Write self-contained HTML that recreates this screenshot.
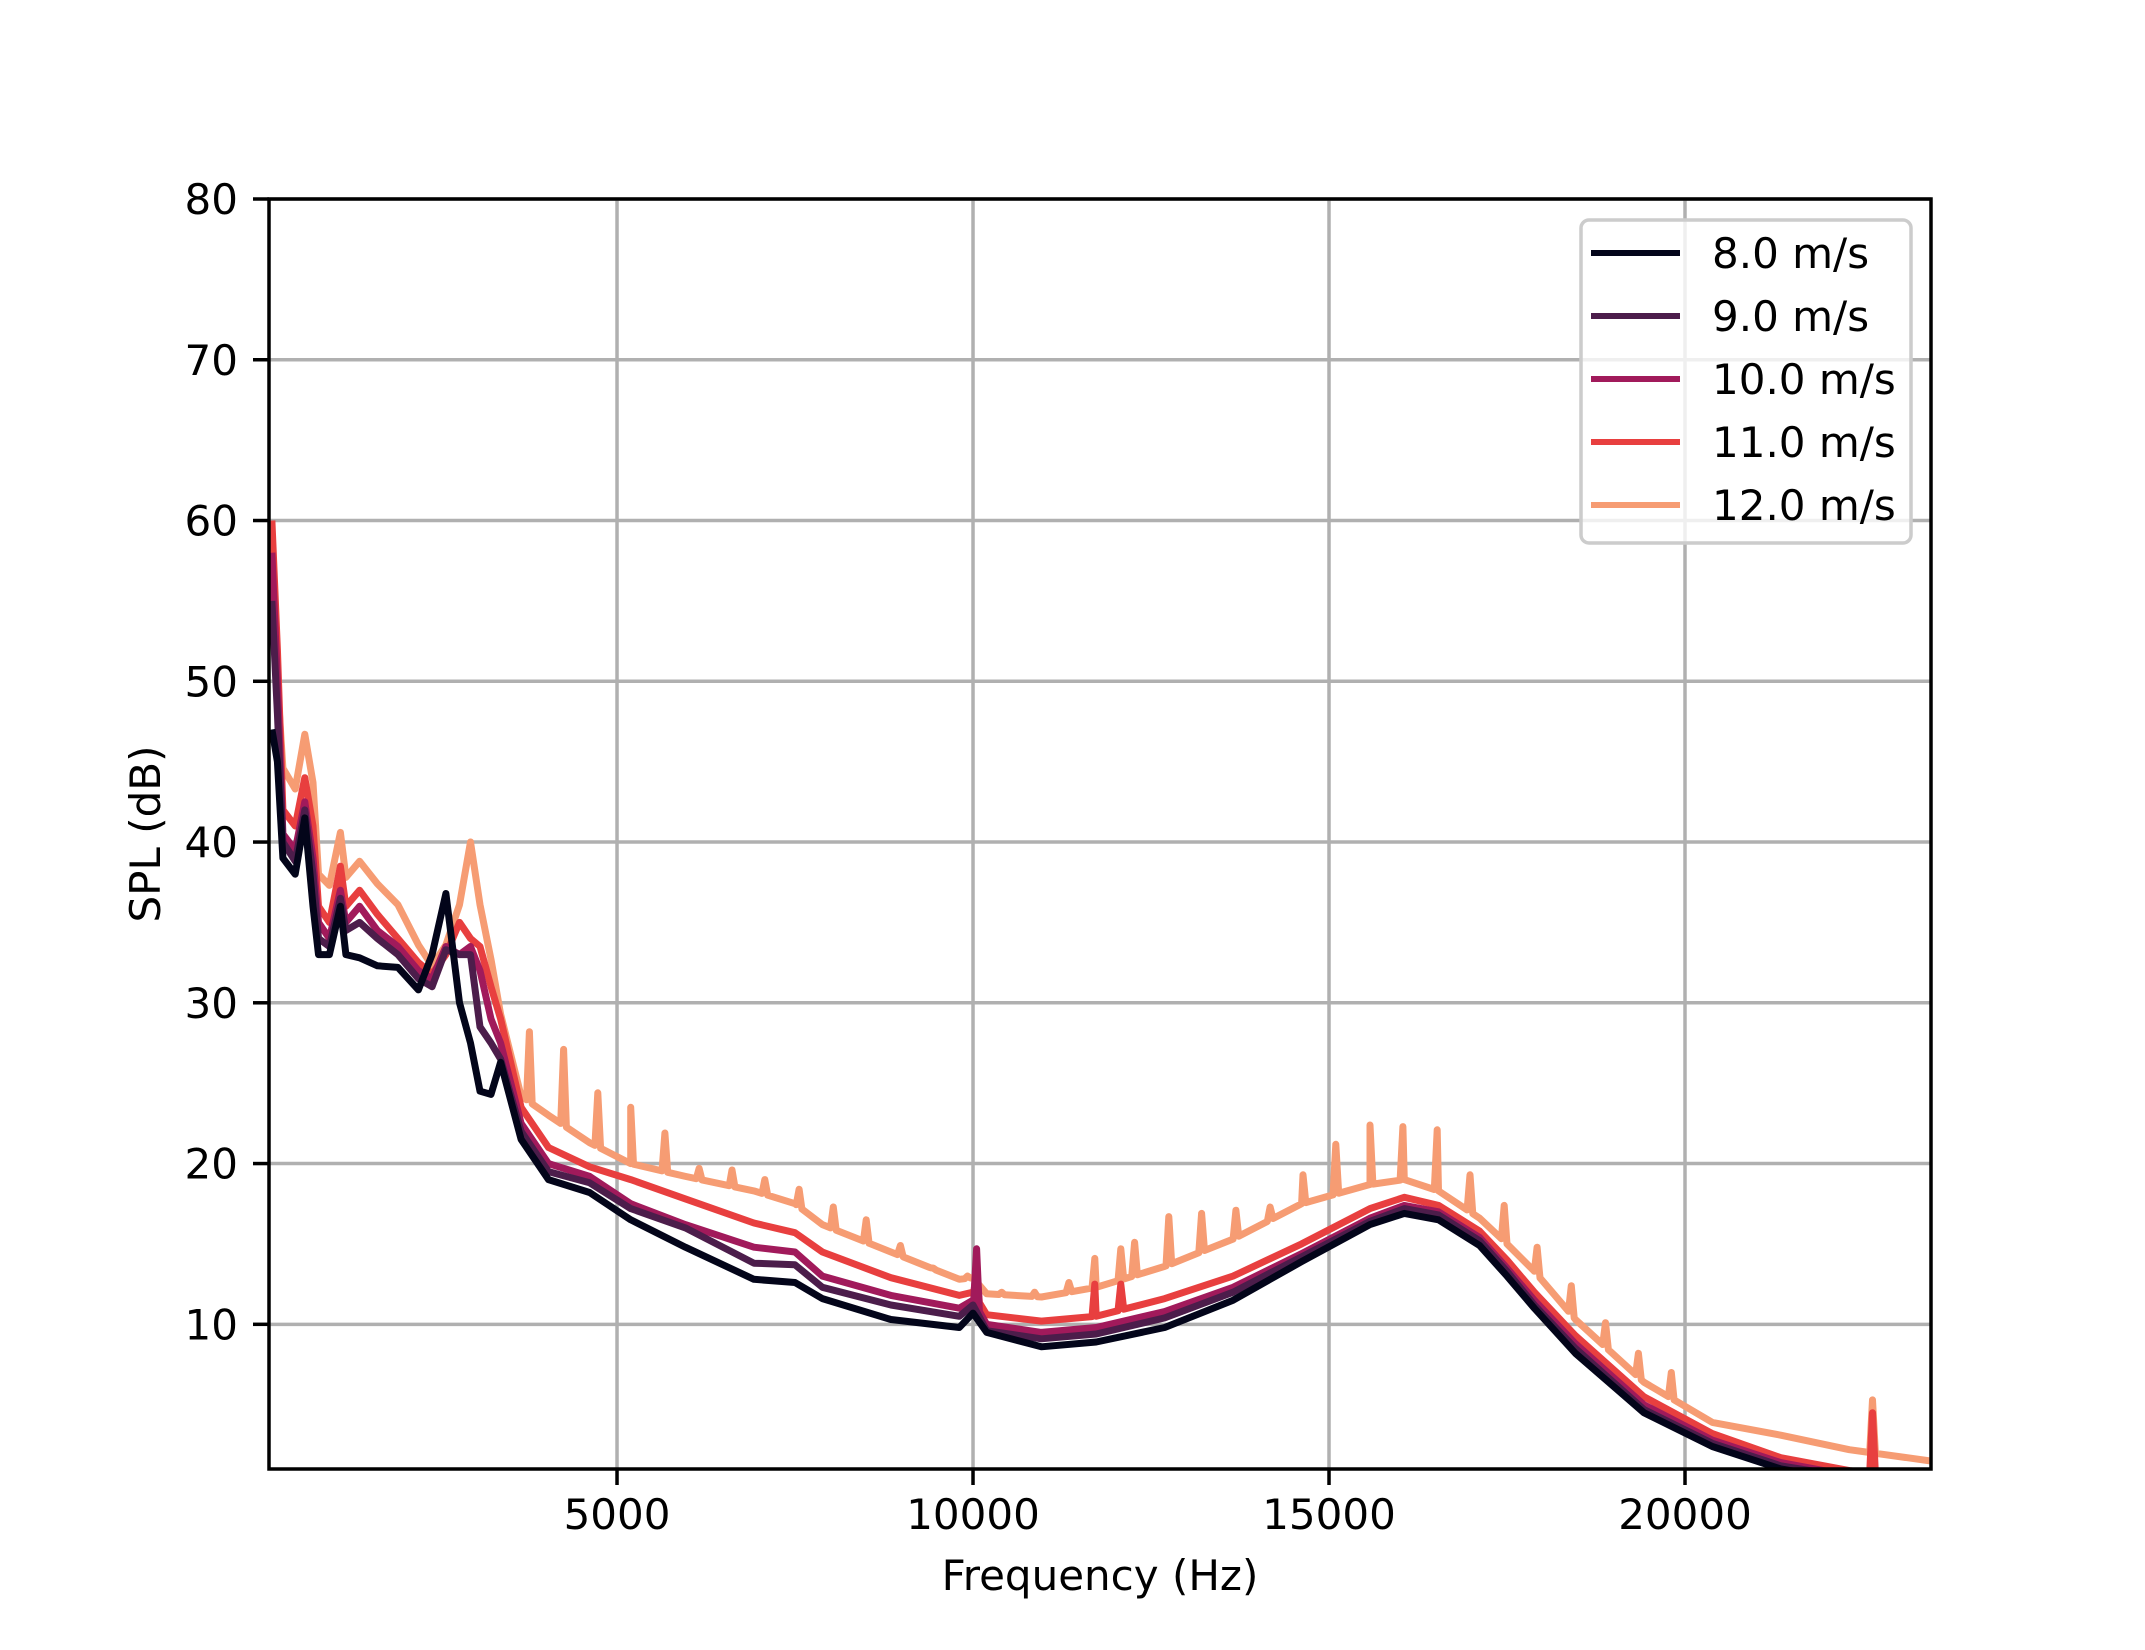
<!DOCTYPE html>
<html><head><meta charset="utf-8">
<style>
html,body{margin:0;padding:0;background:#fff;}
svg{display:block;font-family:"DejaVu Sans","Liberation Sans",sans-serif;}
</style></head>
<body>
<svg id="chart" width="2145" height="1650" viewBox="0 0 2145 1650" xmlns="http://www.w3.org/2000/svg">
<rect width="2145" height="1650" fill="#fff"/>
<defs><clipPath id="plotclip"><rect x="269" y="199" width="1662" height="1270"/></clipPath></defs>
<g id="grid"></g>
<g id="lines" clip-path="url(#plotclip)"></g>
<rect x="269" y="199" width="1662" height="1270" fill="none" stroke="#000" stroke-width="3.5"/>
<g id="ticks"></g>
<text x="1100" y="1590" font-size="42" text-anchor="middle">Frequency (Hz)</text>
<text x="160" y="834" font-size="42" text-anchor="middle" transform="rotate(-90 160 834)">SPL (dB)</text>
<g id="legend"></g>
</svg>
<script>
const seriesLabels = ["8.0 m/s","9.0 m/s","10.0 m/s","11.0 m/s","12.0 m/s"];
const seriesColors = ["#03051a","#4c1d4b","#a11a5b","#e83f3f","#f69c73"];
const freqs = [153,230,307,480,615,730,807,961,1115,1192,1384,1634,1923,2211,2403,2596,2788,2942,3076,3230,3365,3653,4038,4615,5192,5961,6923,7500,7884,8846,9807,10000,10192,10961,11730,12692,13653,14615,15576,16057,16538,17115,17500,17884,18461,19423,20384,21346,22307,23455];
const spl8  = [47,45,39,38,41.5,36,33,33,36,33,32.8,32.3,32.2,30.8,33,36.8,30,27.5,24.5,24.3,26.3,21.5,19,18.2,16.5,14.8,12.8,12.6,11.6,10.3,9.8,10.7,9.5,8.6,8.9,9.8,11.5,13.9,16.2,16.9,16.5,14.9,13,11,8.2,4.5,2.4,1,0.3,0];
const spl9  = [55,48,40,38.8,42,38,34,33.5,36.5,34.5,35,34,33,31.5,31,33.3,33,33,28.5,27.5,26.5,22,19.5,18.8,17.2,16,13.8,13.7,12.3,11.2,10.5,11.2,9.6,9.1,9.4,10.4,12,14.2,16.4,17.2,16.8,15.2,13.3,11.2,8.5,4.7,2.6,1.2,0.5,0];
const spl10 = [58,50,40.5,39.5,42.5,39,35,34,37,35,36,34.5,33.5,32,31.5,33.5,33,33.5,32,29,27.5,22.5,20,19.2,17.5,16.2,14.8,14.5,13,11.8,11,11.5,10,9.5,9.8,10.8,12.3,14.4,16.6,17.4,17,15.4,13.5,11.5,8.8,5,2.8,1.4,0.6,0];
const spl11 = [60,52,42,41,44,41,36,35,38.5,36,37,35.5,34,32.5,31.8,33,35,34,33.5,31,29,23.5,21,19.8,19,17.8,16.3,15.7,14.5,12.9,11.8,12,10.6,10.2,10.5,11.6,13,15,17.2,17.9,17.4,15.8,14,12,9.3,5.5,3.2,1.7,0.9,0.3];
const spl12 = [57,50,44.6,43.3,46.7,43.7,38,37.3,40.6,37.8,38.8,37.4,36.1,33.6,32.3,33.6,36.1,40,36.1,32.7,29.3,24.2,23,21.3,20,19.2,18.3,17.5,16.2,14.5,12.8,12.9,11.9,11.7,12.3,13.6,15.3,17.5,18.7,19,18.3,16.6,15,13.3,10.3,6.4,3.9,3.1,2.2,1.5];
const spikeFreqs12 = [3769,4249,4730,5192,5672,6153,6615,7076,7557,8038,8500,8980,9442,9923,10403,10865,11346,11711,12076,12269,12750,13211,13692,14173,14634,15096,15576,16038,16519,16980,17461,17923,18403,18884,19346,19807,22634];
const spikePeaks12 = [28.2,27.1,24.4,23.5,21.9,19.7,19.6,19.0,18.4,17.3,16.5,14.9,13.5,13.0,12.0,12.0,12.6,14.1,14.7,15.1,16.7,16.9,17.1,17.3,19.3,21.2,22.4,22.3,22.1,19.3,17.4,14.8,12.4,10.1,8.2,7.0,5.3];
const spikeFreqs11 = [10050,11711,12076,22634];
const spikePeaks11 = [13.5,12.5,12.5,4.5];
const spikeFreqs10 = [10050];
const spikePeaks10 = [14.7];
const xTicks = [5000,10000,15000,20000];
const yTicks = [10,20,30,40,50,60,70,80];

const X0=269, X1=1931, Y0=1469, Y1=199, FMIN=112, FMAX=23455, DMIN=1.0, DMAX=80;
function xs(f){return X0+(f-FMIN)/(FMAX-FMIN)*(X1-X0);}
function ys(d){return Y0-(d-DMIN)/(DMAX-DMIN)*(Y0-Y1);}
const NS="http://www.w3.org/2000/svg";
function mk(t,a){const e=document.createElementNS(NS,t);for(const k in a)e.setAttribute(k,a[k]);return e;}
function interp(vals,f){
  if(f<=freqs[0])return vals[0];
  for(let i=1;i<freqs.length;i++){if(f<=freqs[i]){const t=(f-freqs[i-1])/(freqs[i]-freqs[i-1]);return vals[i-1]+t*(vals[i]-vals[i-1]);}}
  return vals[vals.length-1];
}
function buildPts(vals,sf,sp){
  let pts=freqs.map((f,i)=>[f,vals[i]]);
  sf.forEach((f,i)=>{pts.push([f-40,interp(vals,f-40)]);pts.push([f,sp[i]]);pts.push([f+40,interp(vals,f+40)]);});
  pts.sort((a,b)=>a[0]-b[0]);
  return pts;
}
const grid=document.getElementById('grid');
const ticks=document.getElementById('ticks');
xTicks.forEach(v=>{
  const x=xs(v);
  const g=mk('line',{x1:x,x2:x,y1:Y1,y2:Y0,stroke:'#b0b0b0','stroke-width':3.5});
  
  
  grid.appendChild(g);
  const t=mk('line',{x1:x,x2:x,y1:Y0,y2:Y0+16,stroke:'#000','stroke-width':3.5});
  
  
  ticks.appendChild(t);
  const l=mk('text',{x:x,y:1529,'font-size':42,'text-anchor':'middle'});
  
  
  l.textContent=v;ticks.appendChild(l);
});
yTicks.forEach(v=>{
  const y=ys(v);
  const g=mk('line',{x1:X0,x2:X1,y1:y,y2:y,stroke:'#b0b0b0','stroke-width':3.5});
  
  
  grid.appendChild(g);
  const t=mk('line',{x1:X0-16,x2:X0,y1:y,y2:y,stroke:'#000','stroke-width':3.5});
  
  
  ticks.appendChild(t);
  const l=mk('text',{x:238,y:y+15,'font-size':42,'text-anchor':'end'});
  
  
  l.textContent=v;ticks.appendChild(l);
});
const allVals=[spl8,spl9,spl10,spl11,spl12];
const allSF=[[],[],spikeFreqs10,spikeFreqs11,spikeFreqs12];
const allSP=[[],[],spikePeaks10,spikePeaks11,spikePeaks12];
const linesG=document.getElementById('lines');
[4,3,2,1,0].forEach(i=>{
  const pts=buildPts(allVals[i],allSF[i],allSP[i]);
  const d=pts.map((p,j)=>(j?'L':'M')+xs(p[0]).toFixed(1)+','+ys(p[1]).toFixed(1)).join('');
  const p=mk('path',{d:d,fill:'none',stroke:seriesColors[i],'stroke-width':7,'stroke-linejoin':'round'});
  
  
  linesG.appendChild(p);
});
const lg=document.getElementById('legend');
const box=mk('rect',{x:1581,y:220,width:330,height:323,rx:8,fill:'#fff','fill-opacity':0.8,stroke:'#cccccc','stroke-width':3.5});


lg.appendChild(box);
seriesLabels.forEach((s,i)=>{
  const y=253+i*63;
  const l=mk('line',{x1:1591,x2:1680,y1:y,y2:y,stroke:seriesColors[i],'stroke-width':6});
  
  
  lg.appendChild(l);
  const t=mk('text',{x:1712,y:y+15,'font-size':42});
  
  
  t.textContent=s;lg.appendChild(t);
});
</script>
</body></html>
